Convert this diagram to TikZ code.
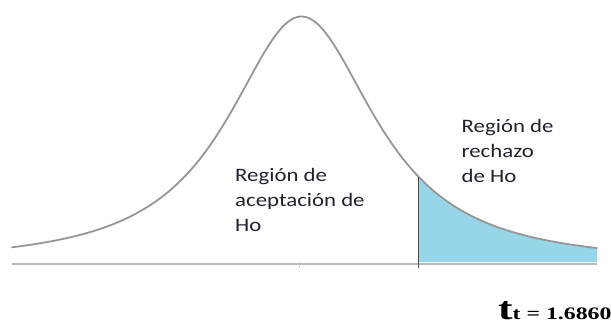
\documentclass[tikz,border=0pt]{standalone}
\usepackage{fontspec}
\usepackage{graphicx}
\setmainfont{Liberation Serif}
\newfontfamily\lblfont[FakeStretch=1.2]{Carlito}
\definecolor{curvegray}{RGB}{150,150,150}
\definecolor{basegray}{RGB}{185,185,185}
\definecolor{vlinegray}{RGB}{75,75,75}
\definecolor{rejblue}{RGB}{150,214,232}
\definecolor{txtdark}{RGB}{35,32,48}
\tikzset{
  curveline/.style={draw=curvegray, line width=1.8pt},
  baseline/.style={draw=basegray, line width=1.6pt},
  critline/.style={draw=vlinegray, line width=1.4pt},
  regionlbl/.style={anchor=base west, inner sep=0pt, align=left, text=txtdark,
    font=\lblfont\fontsize{19}{25}\selectfont},
  declare function={dens(\x)=264-247.5/exp(1.2*ln(1+((\x-301.5)/99.5)^2));}
}
\begin{document}
\begin{tikzpicture}[x=1pt,y=-1pt]
\useasboundingbox (0,0) rectangle (611,327);
% rejection area
\fill[rejblue] (418.5,262) -- plot[domain=418.5:597,samples=80] (\x,{dens(\x)}) -- (597,262) -- cycle;
% axis
\draw[baseline] (12,264) -- (597,264);
\draw[draw=basegray!70, line width=0.8pt] (299,262) -- (299,268);
% density curve
\draw[curveline, line cap=round] plot[domain=12:597,samples=200] (\x,{dens(\x)});
% critical value line
\coordinate (ctop) at (418.5,{dens(418.5)});
\coordinate (cbot) at (418.5,268);
\draw[critline] (ctop) -- (cbot);
% labels (base anchor = last line)
\node[regionlbl] (acc) at (235,231) {Región de\\aceptación de\\Ho};
\node[regionlbl] (rej) at (461.5,182) {Región de\\rechazo\\de Ho};
\node[anchor=base west, inner sep=0pt] (tval) at (498,319)
  {\scalebox{1.36}[1]{\bfseries\fontsize{32}{32}\selectfont t\fontsize{17.5}{17.5}\selectfont t = 1.6860}};
\end{tikzpicture}
\end{document}
